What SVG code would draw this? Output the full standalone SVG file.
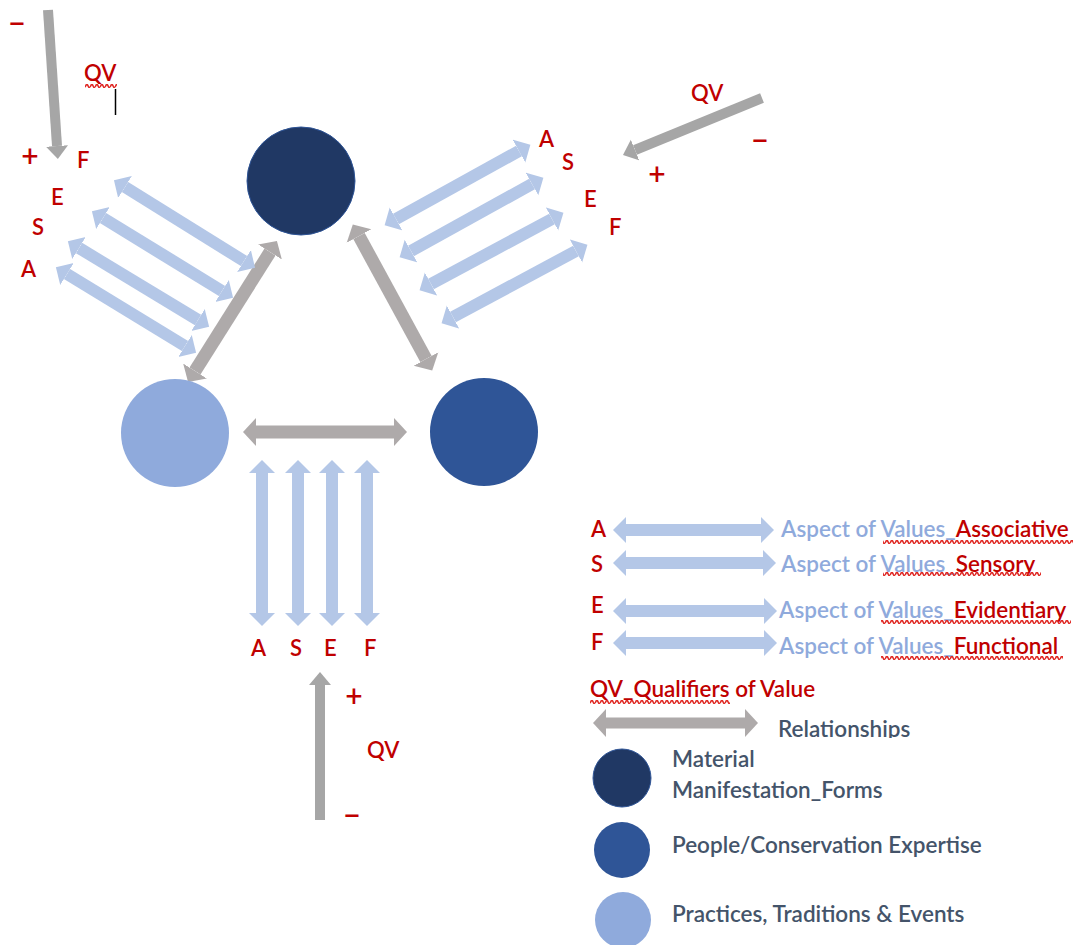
<svg xmlns="http://www.w3.org/2000/svg" width="1076" height="945" viewBox="0 0 1076 945">
<style>
.red{fill:#C00000;font-family:Lato,"Liberation Sans",sans-serif;font-size:22px;font-weight:600}
.pm{fill:#C00000;font-family:Lato,"Liberation Sans",sans-serif;font-size:30px;font-weight:600;text-anchor:middle}
.lg{fill:#44546A;font-family:Lato,"Liberation Sans",sans-serif;font-size:22.5px;font-weight:600}
.av{fill:#8FAADC}
.bl{stroke:#B4C7E7;stroke-width:12;fill:none;marker-start:url(#hb);marker-end:url(#hb)}
.gr{stroke:#AEAAAA;stroke-width:13;fill:none;marker-start:url(#hg);marker-end:url(#hg)}
.qv{stroke:#A6A6A6;stroke-width:10;fill:none;marker-end:url(#hq)}
</style>
<defs>
<marker id="hb" markerUnits="userSpaceOnUse" viewBox="0 -14 14 28" markerWidth="14" markerHeight="28" refX="0" refY="0" orient="auto-start-reverse"><path d="M0,-13 L13,0 L0,13Z" fill="#B4C7E7"/></marker>
<marker id="hg" markerUnits="userSpaceOnUse" viewBox="0 -15 14 30" markerWidth="14" markerHeight="30" refX="0" refY="0" orient="auto-start-reverse"><path d="M0,-14 L13,0 L0,14Z" fill="#AEAAAA"/></marker>
<marker id="hq" markerUnits="userSpaceOnUse" viewBox="0 -12 14 24" markerWidth="14" markerHeight="24" refX="0" refY="0" orient="auto"><path d="M0,-11 L13,0 L0,11Z" fill="#A6A6A6"/></marker>
<pattern id="sq" patternUnits="userSpaceOnUse" width="5" height="4"><path d="M0,3.2 L1.25,0.8 L2.5,0.8 L3.75,3.2 L5,3.2" stroke="#E02B27" stroke-width="1.5" fill="none"/></pattern>
<clipPath id="relclip"><rect x="770" y="700" width="200" height="38"/></clipPath>
</defs>

<g id="connectors">
  <line class="gr" x1="195" y1="371" x2="270" y2="252"/>
  <line class="gr" x1="359" y1="236" x2="426" y2="359"/>
  <line class="gr" x1="256" y1="432" x2="394" y2="432"/>
  <line class="bl" x1="125" y1="187" x2="244" y2="261"/>
  <line class="bl" x1="103" y1="218" x2="222" y2="291"/>
  <line class="bl" x1="79" y1="248" x2="198" y2="320"/>
  <line class="bl" x1="67" y1="274" x2="185" y2="346"/>
  <line class="bl" x1="396" y1="219" x2="519" y2="151"/>
  <line class="bl" x1="411" y1="251" x2="532" y2="184"/>
  <line class="bl" x1="431" y1="284" x2="552" y2="219"/>
  <line class="bl" x1="453" y1="317" x2="576" y2="251"/>
  <line class="bl" x1="262" y1="473" x2="262" y2="613"/>
  <line class="bl" x1="298" y1="473" x2="298" y2="613"/>
  <line class="bl" x1="332" y1="473" x2="332" y2="613"/>
  <line class="bl" x1="367" y1="473" x2="367" y2="613"/>
  <line class="qv" x1="48" y1="10" x2="57" y2="146"/>
  <line class="qv" x1="762" y1="98" x2="635" y2="150"/>
  <line class="qv" x1="320" y1="820" x2="320" y2="685"/>
</g>

<g id="node-material"><circle cx="301" cy="181" r="54" fill="#203864" stroke="#2F5597" stroke-width="1"/></g>
<g id="node-practices"><circle cx="175" cy="433" r="54" fill="#8FAADC"/></g>
<g id="node-people"><circle cx="484" cy="432" r="54" fill="#2F5597"/></g>

<g id="labels-topleft">
  <text class="pm" x="17" y="34">−</text>
  <text class="red" x="84" y="81">QV</text>
  <rect x="85" y="84" width="32" height="4" fill="url(#sq)"/>
  <line x1="115.5" y1="89" x2="115.5" y2="115" stroke="#000" stroke-width="1.5"/>
  <text class="pm" x="30" y="167">+</text>
  <text class="red" x="77" y="168">F</text>
  <text class="red" x="51" y="205">E</text>
  <text class="red" x="32" y="235">S</text>
  <text class="red" x="21" y="277">A</text>
</g>

<g id="labels-topright">
  <text class="red" x="691" y="101">QV</text>
  <text class="pm" x="760" y="151">−</text>
  <text class="pm" x="657" y="185">+</text>
  <text class="red" x="539" y="147">A</text>
  <text class="red" x="562" y="170">S</text>
  <text class="red" x="584" y="207">E</text>
  <text class="red" x="609" y="235">F</text>
</g>

<g id="labels-bottom">
  <text class="red" x="251" y="656">A</text>
  <text class="red" x="290" y="656">S</text>
  <text class="red" x="324" y="656">E</text>
  <text class="red" x="364" y="656">F</text>
  <text class="pm" x="354" y="707">+</text>
  <text class="red" x="367" y="758">QV</text>
  <text class="pm" x="352" y="826">−</text>
</g>

<g id="legend">
  <text class="red" x="591" y="537">A</text>
  <text class="red" x="591" y="572">S</text>
  <text class="red" x="591" y="613">E</text>
  <text class="red" x="591" y="650">F</text>
  <line class="bl" x1="626" y1="530" x2="761" y2="530"/>
  <line class="bl" x1="626" y1="563" x2="763" y2="563"/>
  <line class="bl" x1="626" y1="611" x2="764" y2="611"/>
  <line class="bl" x1="626" y1="643" x2="764" y2="643"/>
  <text class="red" x="781" y="537" style="font-size:22.5px"><tspan class="av">Aspect of Values_</tspan>Associative</text>
  <text class="red" x="781" y="572" style="font-size:22.5px"><tspan class="av">Aspect of Values_</tspan>Sensory</text>
  <text class="red" x="779" y="618" style="font-size:22.5px"><tspan class="av">Aspect of Values_</tspan>Evidentiary</text>
  <text class="red" x="779" y="654" style="font-size:22.5px"><tspan class="av">Aspect of Values_</tspan>Functional</text>
  <rect x="883" y="540" width="190" height="4" fill="url(#sq)"/>
  <rect x="883" y="572" width="158" height="4" fill="url(#sq)"/>
  <rect x="881" y="620" width="190" height="4" fill="url(#sq)"/>
  <rect x="881" y="656" width="182" height="4" fill="url(#sq)"/>
  <text class="red" x="590" y="697" style="font-size:22.5px">QV_Qualifiers of Value</text>
  <rect x="590" y="700" width="140" height="4" fill="url(#sq)"/>
  <line class="gr" x1="606" y1="723" x2="745" y2="723" style="stroke-width:11"/>
  <text class="lg" x="778" y="737" clip-path="url(#relclip)">Relationships</text>
  <circle cx="622" cy="778" r="29" fill="#203864" stroke="#2F5597" stroke-width="1"/>
  <text class="lg" x="672" y="767">Material</text>
  <text class="lg" x="672" y="798">Manifestation_Forms</text>
  <circle cx="622" cy="850" r="28" fill="#2F5597"/>
  <text class="lg" x="672" y="853">People/Conservation Expertise</text>
  <circle cx="623" cy="920" r="28" fill="#8FAADC"/>
  <text class="lg" x="672" y="922">Practices, Traditions &amp; Events</text>
</g>
</svg>
